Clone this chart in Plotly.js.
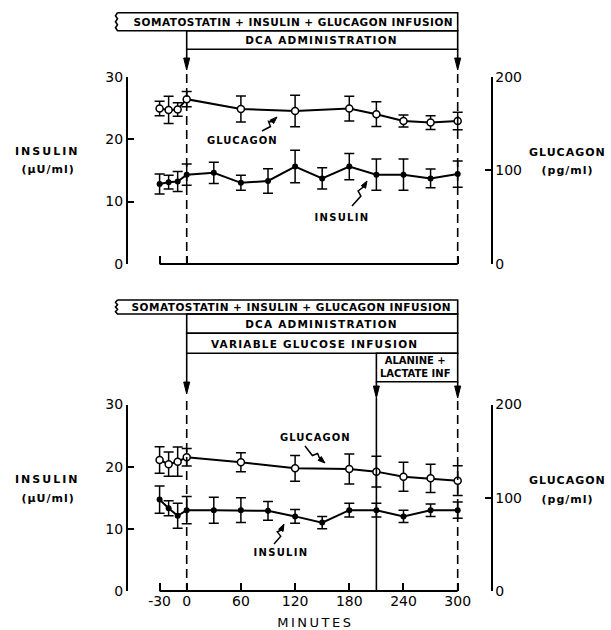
<!DOCTYPE html>
<html><head><meta charset="utf-8">
<script src="https://cdn.plot.ly/plotly-3.0.1.min.js"></script>
<style>
body{margin:0;background:#fff}
#chart{width:611px;height:630px}
</style>
</head><body><div id="chart"></div><script>
// ---------------- data ----------------
const minutesGlucagon = [-30,-20,-10,0,60,120,180,210,240,270,300];
const minutesInsulin  = [-30,-20,-10,0,30,60,90,120,150,180,210,240,270,300];
// upper panel
const glucagonA    = [166,164.5,165,176,165.5,163.4,166,160,152.7,151,152.7];
const glucagonAErr = [7.8,14.6,7.1,8.2,13.9,16.9,13.2,13.3,6.4,7.3,9.3];
const insulinA     = [12.8,13.1,13.2,14.3,14.6,13.0,13.3,15.6,13.7,15.6,14.3,14.3,13.7,14.4];
const insulinAErr  = [1.6,1.1,1.6,1.7,1.7,1.2,1.95,2.6,1.7,2.1,2.5,2.5,1.5,2.1];
// lower panel
const glucagonB    = [140.5,136,138.7,143.4,138,131.6,130.8,128,122.6,120.8,118.3];
const glucagonBErr = [14.3,13,15.6,9.3,10.2,13.8,16,16.6,15.6,15.2,16];
const insulinB     = [14.7,13.3,12.1,13.0,13.0,13.0,12.9,12.0,11.0,13.0,13.0,12.0,13.0,13.0];
const insulinBErr  = [2.2,1.2,2.0,2.2,2.1,2.0,1.5,1.1,1.0,1.1,1.1,1.0,1.0,1.3];
// ticks / labels
const xTickValsA = [-30,0,300];
const xTickValsB = [-30,0,60,120,180,240,300];
const xTickTextB = ['-30','0','60','120','180','240','300'];
const insulinTicks = [0,10,20,30];
const glucagonTicks = [0,100,200];
const eventTimes = {start:0, alanine:210, end:300, first:-30};

// ---------------- geometry ----------------
const W=611, H=630, L=100, R=100;
const PW = W-L-R;
const X0PX = 186.7, PXMIN = 0.9033;
const xRange = [(L-X0PX)/PXMIN, (W-R-X0PX)/PXMIN];
const px = p => (p-L)/PW;          // pixel x -> paper x
const py = p => (H-p)/H;           // pixel y -> paper y
const posL = px(127), posR = px(491.5);
const domA = [py(264), py(76.7)];
const domB = [py(591), py(404.5)];

const BLACK = '#000';
const FONT = 'DejaVu Sans';
const tickFont = {family:FONT, size:14, color:BLACK};

function insTrace(x,y,err,xa,ya){
  return {x:x, y:y, xaxis:xa, yaxis:ya, type:'scatter', mode:'lines+markers',
    line:{color:BLACK,width:2}, marker:{symbol:'circle',size:6,color:BLACK},
    error_y:{type:'data',array:err,visible:true,color:BLACK,thickness:1.5,width:5},
    showlegend:false, hoverinfo:'skip', cliponaxis:false};
}
function gluTrace(x,y,err,xa,ya){
  return {x:x, y:y, xaxis:xa, yaxis:ya, type:'scatter', mode:'lines+markers',
    line:{color:BLACK,width:2}, marker:{symbol:'circle',size:7,color:'#fff',line:{color:BLACK,width:1.5}},
    error_y:{type:'data',array:err,visible:true,color:BLACK,thickness:1.5,width:5},
    showlegend:false, hoverinfo:'skip', cliponaxis:false};
}
const data = [
  insTrace(minutesInsulin, insulinA, insulinAErr, 'x', 'y'),
  gluTrace(minutesGlucagon, glucagonA, glucagonAErr, 'x', 'y2'),
  insTrace(minutesInsulin, insulinB, insulinBErr, 'x2', 'y3'),
  gluTrace(minutesGlucagon, glucagonB, glucagonBErr, 'x2', 'y4'),
];

function yAx(dom, range, ticks, side, pos, overl){
  const a = {range:range, tickvals:ticks, anchor:'free', position:pos, side:side,
    showline:true, linecolor:BLACK, linewidth:2, ticks:'inside', ticklen:6, tickwidth:2, tickcolor:BLACK,
    showgrid:false, zeroline:false, tickfont:tickFont, fixedrange:true};
  if(overl) a.overlaying = overl; else a.domain = dom;
  return a;
}
function xAx(anchor, vals, text){
  const a = {domain:[0,1], anchor:anchor, range:xRange, tickvals:vals, showline:false,
    ticks:'inside', ticklen:8, tickwidth:2, tickcolor:BLACK, showgrid:false, zeroline:false,
    tickfont:tickFont, fixedrange:true, showticklabels: !!text};
  if(text) a.ticktext = text;
  return a;
}

// ---------------- decorations ----------------
const shapes = [];
const ann = [];
const spacing = [];
const LW = 1.6;
function seg(xref, x0, y0, x1, y1, dash, w){
  shapes.push({type:'line', xref:xref, yref:'paper', x0:x0, x1:x1, y0:py(y0), y1:py(y1),
    line:{color:BLACK, width:w||LW, dash:dash||'solid'}});
}
function box(xref, x0, x1, top, bot){
  shapes.push({type:'rect', xref:xref, yref:'paper', x0:x0, x1:x1, y0:py(bot), y1:py(top),
    line:{color:BLACK, width:LW}, fillcolor:'rgba(0,0,0,0)'});
}
function wavyBox(xref, xw, x1, top, bot){
  let p = `M ${xw} ${py(top)} L ${x1} ${py(top)} L ${x1} ${py(bot)} L ${xw} ${py(bot)}`;
  const n = 6;
  for(let i=1;i<=n;i++){
    const yy = bot + (top-bot)*i/n;
    const xx = xw + (i%2 ? -2.2 : 0);
    p += ` L ${xx} ${py(yy)}`;
  }
  shapes.push({type:'path', xref:xref, yref:'paper', path:p, line:{color:BLACK,width:LW}});
}
function arrowHead(xref, xm, tip){
  const hw = 3/PXMIN, len = 12;
  const p = `M ${xm-hw} ${py(tip-len)} L ${xm+hw} ${py(tip-len)} L ${xm} ${py(tip)} Z`;
  shapes.push({type:'path', xref:xref, yref:'paper', path:p, fillcolor:BLACK, line:{color:BLACK,width:1}});
}
function text(t, xp, yp, size, ls, extra){
  ann.push(Object.assign({text:t, xref:'paper', yref:'paper', x:px(xp), y:py(yp),
    showarrow:false, xanchor:'center', yanchor:'middle',
    font:{family:FONT, size:size, color:BLACK, weight:'bold'}}, extra||{}));
  spacing.push(ls||0);
}
// lightning-bolt pointer (pixel coords converted to paper)
function bolt(x0, y0, x1, y1){
  const dx = x1-x0, dy = y1-y0, len = Math.hypot(dx,dy);
  const ux = dx/len, uy = dy/len, nx = -uy, ny = ux;
  const P = (x,y) => `${px(x)} ${py(y)}`;
  const a1 = [x0+0.45*dx+2.5*nx, y0+0.45*dy+2.5*ny];
  const a2 = [x0+0.55*dx-2.5*nx, y0+0.55*dy-2.5*ny];
  const hb = [x1-7*ux, y1-7*uy];
  shapes.push({type:'path', xref:'paper', yref:'paper',
    path:`M ${P(x0,y0)} L ${P(a1[0],a1[1])} L ${P(a2[0],a2[1])} L ${P(hb[0],hb[1])}`,
    line:{color:BLACK,width:1.5}});
  shapes.push({type:'path', xref:'paper', yref:'paper',
    path:`M ${P(x1,y1)} L ${P(hb[0]+2.5*nx,hb[1]+2.5*ny)} L ${P(hb[0]-2.5*nx,hb[1]-2.5*ny)} Z`,
    fillcolor:BLACK, line:{color:BLACK,width:1}});
}

const xw = (117.5-X0PX)/PXMIN;   // wavy left edge of the first bar
const S = eventTimes.start, E = eventTimes.end, A = eventTimes.alanine, F = eventTimes.first;
const DASH = '9px,5px';

// ----- upper panel -----
wavyBox('x', xw, E, 12.7, 30.7);
box('x', S, E, 30.7, 49.3);
seg('x', S, 49.3, S, 58);
seg('x', E, 49.3, E, 58);
arrowHead('x', S, 70);
arrowHead('x', E, 70);
seg('x', S, 74, S, 264, DASH);
seg('x', E, 74, E, 264, DASH);
seg('x', F, 264, E, 264, 'solid', 2);
text('SOMATOSTATIN + INSULIN + GLUCAGON INFUSION', 293, 22, 10.5, 0.5);
text('DCA ADMINISTRATION', 321, 40.5, 10.5, 1.2);

// ----- lower panel -----
wavyBox('x2', xw, E, 300, 314);
box('x2', S, E, 314, 333.3);
box('x2', S, E, 333.3, 353.3);
box('x2', A, E, 353.3, 381.7);
seg('x2', S, 353.3, S, 383);
seg('x2', A, 381.7, A, 387);
seg('x2', E, 381.7, E, 387);
arrowHead('x2', S, 394);
arrowHead('x2', A, 398);
arrowHead('x2', E, 398);
seg('x2', S, 401, S, 591, DASH);
seg('x2', A, 398, A, 591, 'solid');
seg('x2', E, 401, E, 591, DASH);
seg('x2', F, 591, E, 591, 'solid', 2);
text('SOMATOSTATIN + INSULIN + GLUCAGON INFUSION', 291, 307, 10.5, 0.5);
text('DCA ADMINISTRATION', 321, 323.7, 10.5, 1.2);
text('VARIABLE GLUCOSE INFUSION', 314, 343.5, 10.5, 1.2);
text('ALANINE +<br>LACTATE INF', 415, 367.5, 10, 0);

// axis titles
text('INSULIN', 47, 151, 11, 2);
text('(µU/ml)', 48, 169, 11, 1);
text('GLUCAGON', 567, 152, 11, 1);
text('(pg/ml)', 567, 170, 11, 1);
text('INSULIN', 47, 479, 11, 2);
text('(µU/ml)', 48, 498, 11, 1);
text('GLUCAGON', 567, 480, 11, 1);
text('(pg/ml)', 567, 499, 11, 1);
text('MINUTES', 315, 622, 13, 2.5, {font:{family:FONT,size:13,color:BLACK}});

// curve labels
text('GLUCAGON', 242, 140, 10, 1);
bolt(262, 131, 277, 117);
text('INSULIN', 342, 217, 10, 1.3);
bolt(352, 206, 367, 181);
text('GLUCAGON', 315, 437, 10, 1);
bolt(305, 446, 325, 463);
text('INSULIN', 281, 552, 10, 1.3);
bolt(274, 544, 284, 524);

const layout = {
  width:W, height:H, margin:{l:L, r:R, t:0, b:0, pad:0},
  paper_bgcolor:'#fff', plot_bgcolor:'rgba(0,0,0,0)', showlegend:false,
  xaxis: xAx('y', xTickValsA, null),
  yaxis: yAx(domA, [0,30], insulinTicks, 'left', posL),
  yaxis2: yAx(domA, [0,200], glucagonTicks, 'right', posR, 'y'),
  xaxis2: xAx('y3', xTickValsB, xTickTextB),
  yaxis3: yAx(domB, [0,30], insulinTicks, 'left', posL),
  yaxis4: yAx(domB, [0,200], glucagonTicks, 'right', posR, 'y3'),
  shapes: shapes, annotations: ann
};
Plotly.newPlot('chart', data, layout, {staticPlot:true, displayModeBar:false}).then(function(gd){
  gd.querySelectorAll('.annotation').forEach(function(g){
    const i = +g.getAttribute('data-index');
    const s = spacing[i];
    if(s){
      g.querySelectorAll('text').forEach(function(t){ t.style.letterSpacing = s + 'px'; });
    }
  });
});
</script></body></html>
